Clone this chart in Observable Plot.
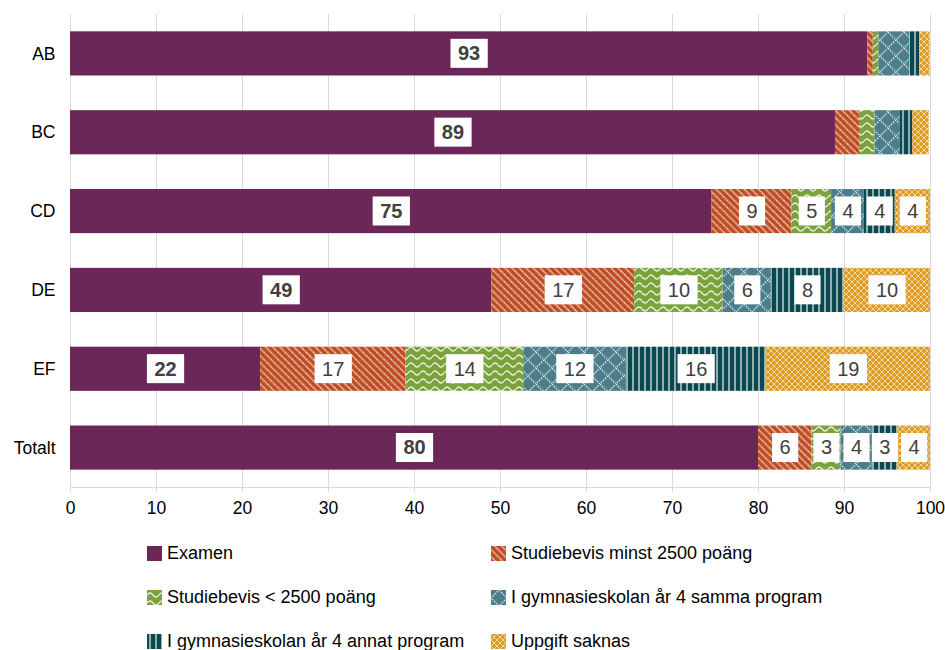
<!DOCTYPE html>
<html>
<head>
<meta charset="utf-8">
<script src="https://cdn.jsdelivr.net/npm/d3@7"></script>
<script src="https://cdn.jsdelivr.net/npm/@observablehq/plot@0.6"></script>
<style>
  body { margin: 0; background: #fff; font-family: "Liberation Sans", Arial, sans-serif; }
  #legend { display: grid; grid-template-columns: 344px 344px; padding-left: 147px; padding-top: 6px; }
  .item { height: 44px; display: flex; align-items: center; font-size: 18px; color: #000; white-space: nowrap; }
  .item svg { margin-right: 5px; flex: none; }
</style>
</head>
<body>
<svg width="0" height="0" style="position:absolute">
  <defs>
    <pattern id="pat0" patternUnits="userSpaceOnUse" width="6" height="6">
      <rect width="6" height="6" fill="#6A2758"/>
    </pattern>
    <pattern id="pat1" patternUnits="userSpaceOnUse" width="5" height="5" patternTransform="rotate(-45)">
      <rect width="5" height="5" fill="#BE4A1F"/>
      <line x1="2.5" y1="0" x2="2.5" y2="5" stroke="#fff" stroke-opacity="0.8" stroke-width="1.4" stroke-dasharray="2 0.6"/>
    </pattern>
    <pattern id="pat2" patternUnits="userSpaceOnUse" width="12" height="8">
      <rect width="12" height="8" fill="#7BA23D"/>
      <path d="M0,5 Q3,1 6,5 T12,5" fill="none" stroke="#fff" stroke-opacity="0.8" stroke-width="1.3"/>
    </pattern>
    <pattern id="pat3" patternUnits="userSpaceOnUse" width="16" height="16">
      <rect width="16" height="16" fill="#4B7E8A"/>
      <path d="M8,0 L16,8 L8,16 L0,8 Z" fill="none" stroke="#fff" stroke-opacity="0.75" stroke-width="1.5" stroke-dasharray="1.6 1.2"/>
    </pattern>
    <pattern id="pat4" patternUnits="userSpaceOnUse" width="6" height="6">
      <rect width="6" height="6" fill="#0B4951"/>
      <line x1="3" y1="0" x2="3" y2="6" stroke="#fff" stroke-opacity="0.85" stroke-width="1.3"/>
    </pattern>
    <pattern id="pat5" patternUnits="userSpaceOnUse" width="6" height="6">
      <rect width="6" height="6" fill="#DE9C22"/>
      <path d="M0,0 L6,6 M6,0 L0,6" stroke="#fff" stroke-opacity="0.6" stroke-width="1"/>
    </pattern>
  </defs>
</svg>
<div id="chart"></div>
<div id="legend"></div>
<script>
const categories = ["AB", "BC", "CD", "DE", "EF", "Totalt"];
const series = [
  "Examen",
  "Studiebevis minst 2500 poäng",
  "Studiebevis < 2500 poäng",
  "I gymnasieskolan år 4 samma program",
  "I gymnasieskolan år 4 annat program",
  "Uppgift saknas"
];
const examen    = [92.7, 88.95, 74.6, 49.0, 22.1, 80.0];
const studMinst = [0.65, 2.8, 9.3, 16.6, 16.9, 6.2];
const studUnder = [0.65, 1.8, 4.6, 10.3, 13.7, 3.4];
const samma     = [3.6, 2.9, 3.8, 5.6, 11.9, 3.6];
const annat     = [1.15, 1.5, 3.6, 8.4, 16.3, 3.0];
const saknas    = [1.2, 1.9, 4.1, 10.1, 19.1, 3.8];
// rows where the non-Examen segments carry value labels
const labelledRows = ["CD", "DE", "EF", "Totalt"];
const xTicks = [0, 10, 20, 30, 40, 50, 60, 70, 80, 90, 100];

const valueArrays = [examen, studMinst, studUnder, samma, annat, saknas];
const patternUrls = series.map((s, i) => `url(#pat${i})`);
const data = categories.flatMap((c, i) => series.map((s, j) => ({cat: c, series: s, value: valueArrays[j][i]})));

const chart = Plot.plot({
  width: 945,
  height: 525,
  marginLeft: 70,
  marginRight: 15,
  marginTop: 14,
  marginBottom: 38,
  style: {fontFamily: "'Liberation Sans', Arial, sans-serif", fontSize: "17.5px", color: "#000", background: "#fff"},
  x: {domain: [0, 100]},
  y: {domain: categories, paddingInner: 0.44, paddingOuter: 0.22, round: false},
  color: {domain: series, range: patternUrls},
  marks: [
    Plot.gridX({ticks: xTicks, stroke: "#d9d9d9", strokeOpacity: 1}),
    Plot.barX(data, {x: "value", y: "cat", fill: "series", order: series}),
    Plot.frame({anchor: "bottom", stroke: "#d9d9d9", strokeOpacity: 1}),
    Plot.axisX({ticks: xTicks, tickSize: 5, tickPadding: 9, stroke: "#d9d9d9", fill: "#000", label: null, fontSize: 17.5}),
    Plot.axisY({tickSize: 0, tickPadding: 15, label: null, fontSize: 17.5, fill: "#000"}),
    Plot.text(data, Plot.stackX({
      x: "value", y: "cat", z: "series", order: series,
      text: d => d.series === series[0] ? String(Math.round(d.value)) : null,
      fontWeight: "bold", fontSize: 20, fill: "#404040"
    })),
    Plot.text(data, Plot.stackX({
      x: "value", y: "cat", z: "series", order: series,
      text: d => d.series !== series[0] && labelledRows.includes(d.cat) ? String(Math.round(d.value)) : null,
      fontSize: 20, fill: "#404040"
    }))
  ]
});
document.getElementById("chart").append(chart);

// white boxes behind value labels
const ns = "http://www.w3.org/2000/svg";
d3.select(chart).selectAll('g[aria-label="text"] text').each(function() {
  const b = this.getBBox();
  const r = document.createElementNS(ns, "rect");
  const padX = 7.5, padY = 3.5;
  r.setAttribute("x", b.x - padX);
  r.setAttribute("y", b.y - padY);
  r.setAttribute("width", b.width + 2 * padX);
  r.setAttribute("height", b.height + 2 * padY);
  r.setAttribute("fill", "#fff");
  r.setAttribute("stroke", "none");
  const t = this.getAttribute("transform");
  if (t) r.setAttribute("transform", t);
  this.parentNode.insertBefore(r, this);
});

// legend
const legend = d3.select("#legend");
series.forEach((s, i) => {
  const item = legend.append("div").attr("class", "item");
  const sw = item.append("svg").attr("width", 15).attr("height", 15);
  sw.append("rect").attr("width", 15).attr("height", 15).attr("fill", patternUrls[i]);
  item.append("span").text(s);
});
</script>
</body>
</html>
